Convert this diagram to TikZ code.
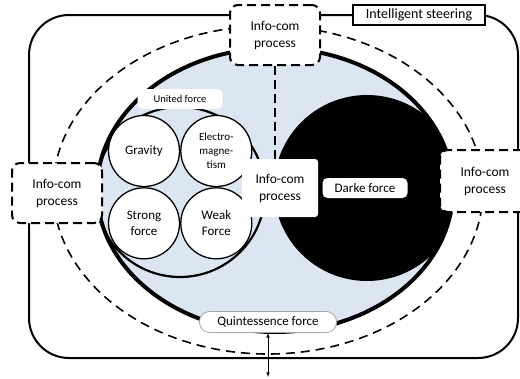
\documentclass[tikz,border=0pt]{standalone}
\usepackage{fontspec}
\setmainfont{Carlito}
\usetikzlibrary{positioning}
\definecolor{skyfill}{RGB}{220,229,242}
\tikzset{
procbox/.style={draw,dash pattern=on 9pt off 5pt,line width=2pt,rounded corners=8pt,
  fill=white,minimum width=90pt,minimum height=60pt,align=center,inner sep=1pt,
  font=\fontsize{13.5}{17}\selectfont},
forcecirc/.style={circle,draw,line width=1.3pt,fill=white,minimum size=71pt,
  align=center,inner sep=0pt,font=\fontsize{13}{16}\selectfont},
tagbox/.style={fill=white,rounded corners=5pt,minimum height=20pt,inner sep=2pt,
  font=\fontsize{13}{15}\selectfont}
}
\begin{document}
\begin{tikzpicture}[x=1pt,y=-1pt,>=latex]
\useasboundingbox (0,0) rectangle (520,378);
%Внешняя рамка
\draw[line width=2pt,rounded corners=40pt] (29,15) rectangle (518,358);
%Пунктирный эллипс
\draw[line width=1.6pt,dash pattern=on 9pt off 6pt]
(268,190) ellipse [x radius=215pt,y radius=164pt];
%Эллипс и темная сила
\fill[skyfill] (275,190) ellipse [x radius=178pt,y radius=142pt];
\begin{scope}
\clip (275,190) ellipse [x radius=178pt,y radius=142pt];
\fill[black] (367,188) circle (93pt);
\end{scope}
\draw[line width=2.2pt] (180,192) circle (85pt);
\draw[line width=4pt] (275,190) ellipse [x radius=178pt,y radius=142pt];
%Четыре силы
\node [forcecirc] (gravity) at (144,151) {Gravity};
\node [forcecirc,right=0pt of gravity,font=\fontsize{11}{14}\selectfont] (electro) {Electro-\\magne-\\tism};
\node [forcecirc,below=0pt of gravity] (strong) {Strong\\force};
\node [forcecirc,below=0pt of electro] (weak) {Weak\\Force};
%Подписи
\node [tagbox,minimum width=85pt,font=\fontsize{10.5}{12}\selectfont] (united) at (180,99) {United force};
\node [tagbox,minimum width=85pt] (darke) at (365,188) {Darke force};
\node [tagbox,draw=black!35,line width=0.8pt,rounded corners=10pt,minimum width=137pt,minimum height=21pt]
(quint) at (268,322) {Quintessence force};
\node [draw,line width=1.5pt,fill=white,minimum width=132pt,minimum height=20pt,inner sep=1pt,
font=\fontsize{14}{16}\selectfont] (steer) at (419,15) {Intelligent steering};
%Процессы
\node [procbox] (topproc) at (275,35) {Info-com\\process};
\node [procbox] (leftproc) at (57,193) {Info-com\\process};
\node [procbox,minimum height=62pt] (rightproc) at (485,181) {Info-com\\process};
\node [fill=white,rounded corners=3pt,minimum width=76pt,minimum height=58pt,align=center,
font=\fontsize{13.5}{17}\selectfont] (midproc) at (280,188) {Info-com\\process};
%Связи
\draw[line width=1.5pt,dash pattern=on 9pt off 5pt]
(topproc.south) -- (topproc.south |- midproc.north);
\coordinate (ground) at (268,377);
\draw[<->,line width=0.6pt] (quint.south) -- (ground);
\end{tikzpicture}
\end{document}
